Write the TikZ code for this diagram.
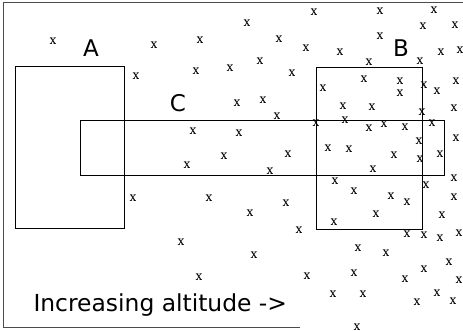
\documentclass[tikz,border=0pt]{standalone}
\usepackage{fontspec}
\setsansfont{DejaVu Sans}
\begin{document}
\begin{tikzpicture}[x=0.5pt, y=-0.5pt, line width=0.5pt]
\tikzstyle{frame}=[draw=black!70]
\tikzstyle{region}=[draw=black]
\tikzstyle{letter}=[font=\sffamily\fontsize{11.5}{11.5}\selectfont, inner sep=0pt, anchor=base]
\tikzstyle{cross}=[font=\rmfamily\bfseries\fontsize{7.5}{7.5}\selectfont, inner sep=0pt]
\useasboundingbox (0,0) rectangle (463,331);
% outer frame (open on the right)
\draw[frame] (463,3) -- (4,3) -- (4,328) -- (300,328);
% regions
\draw[region] (16,67) rectangle (125,229);
\draw[region] (317,68) rectangle (423,230);
\draw[region] (81,121) rectangle (445,176);
\node[letter] (labelA) at (91,57) {A};
\node[letter] (labelB) at (401,57) {B};
\node[letter] (labelC) at (178,112) {C};
% sample points
\foreach \px/\py [count=\i] in {53/41, 154/45, 200/40, 136/76, 196/71, 230/68, 193/131,
  224/156, 187/165, 314/12, 380/11, 434/10, 247/23, 423/26, 455/25, 279/39, 380/36,
  306/48, 340/52, 441/52, 460/50, 260/61, 369/62, 420/61, 292/73, 364/79, 400/81,
  400/93, 424/85, 437/91, 456/81, 323/88, 237/103, 263/100, 343/106, 372/107, 422/112,
  454/108, 277/116, 316/123, 345/120, 384/124, 432/123, 369/128, 405/127, 239/133,
  419/141, 456/138, 328/148, 349/149, 288/154, 394/155, 420/159, 440/154,
  133/198, 209/198, 181/242, 199/277,
  270/171, 373/169, 335/181, 426/185, 454/178, 354/191, 391/196, 407/202, 454/197,
  286/203, 250/213, 376/214, 442/215, 334/222, 299/230, 407/234, 424/235, 440/238,
  459/233, 358/248, 386/253, 254/255, 449/262, 424/269, 307/276, 354/273, 405/279,
  459/280, 333/294, 363/294, 417/302, 437/293, 453/301, 357/327}
  \node[cross] (p\i) at (\px,\py) {\scalebox{0.7}[1]{x}};
\node[font=\sffamily\fontsize{11.7}{11.7}\selectfont, inner sep=0pt, anchor=base west]
  (axis) at (33,312) {Increasing altitude ->};
\end{tikzpicture}
\end{document}
